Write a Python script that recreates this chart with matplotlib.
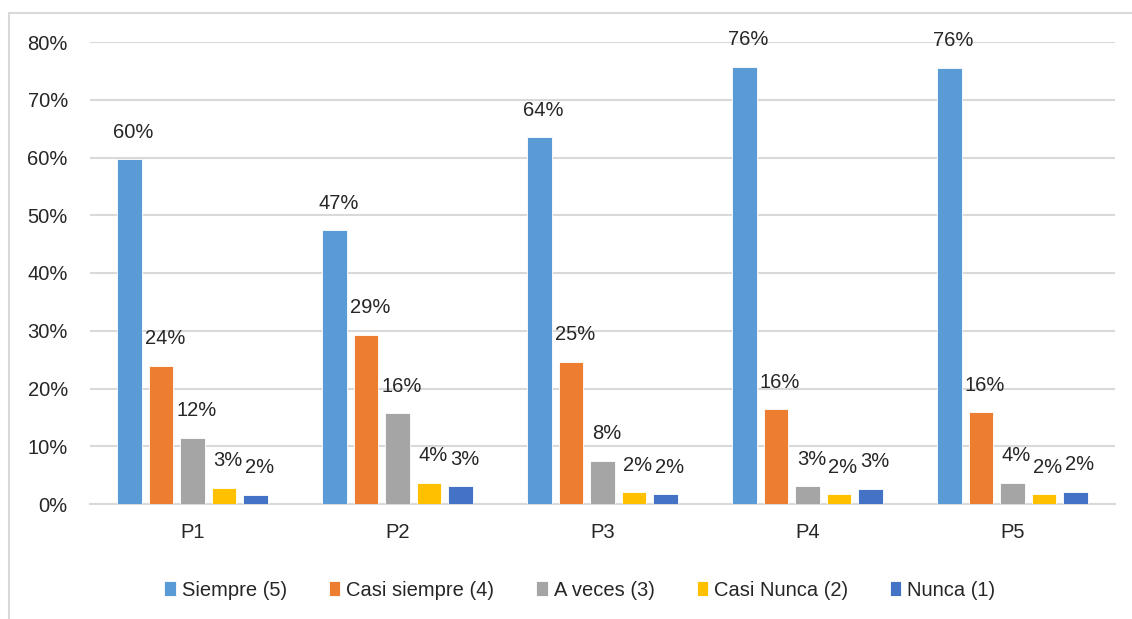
import matplotlib
matplotlib.use("Agg")
import matplotlib.pyplot as plt
from matplotlib.lines import Line2D
import numpy as np

questions = ["P1", "P2", "P3", "P4", "P5"]
series = ["Siempre (5)", "Casi siempre (4)", "A veces (3)", "Casi Nunca (2)", "Nunca (1)"]
siempre = [59.7, 47.4, 63.5, 75.7, 75.5]
casi_siempre = [23.9, 29.3, 24.6, 16.4, 15.9]
a_veces = [11.5, 15.7, 7.5, 3.1, 3.7]
casi_nunca = [2.8, 3.7, 2.0, 1.7, 1.7]
nunca = [1.6, 3.1, 1.7, 2.6, 2.1]
colors = ["#5B9BD5", "#ED7D31", "#A5A5A5", "#FFC000", "#4472C4"]

plt.rcParams["font.family"] = ["Liberation Sans", "DejaVu Sans"]
FS = 14.5

fig = plt.figure(figsize=(11.32, 6.19), dpi=100)
ax = fig.add_axes([90 / 1132, 1 - 504 / 619, 1025 / 1132, 462 / 619])

# frame of the original chart area (only left/top edges visible)
fig.add_artist(Line2D([9 / 1132, 9 / 1132], [0, 1 - 13 / 619], transform=fig.transFigure,
                      color="#D9D9D9", lw=1.5))
fig.add_artist(Line2D([9 / 1132, 1], [1 - 13 / 619, 1 - 13 / 619], transform=fig.transFigure,
                      color="#D9D9D9", lw=1.5))

x = np.arange(len(questions))
width = 0.12
step = 0.1535
values = [siempre, casi_siempre, a_veces, casi_nunca, nunca]
for i, (name, vals, col) in enumerate(zip(series, values, colors)):
    pos = x + (i - 2) * step
    ax.bar(pos, vals, width, color=col, label=name, edgecolor="white", linewidth=0.6, zorder=3)
    for px, v in zip(pos, vals):
        ax.annotate(f"{round(v):.0f}%", (px, v), xytext=(4, 27), textcoords="offset pixels",
                    ha="center", va="center", fontsize=FS, color="#262626", zorder=4)

ax.set_xlim(-0.5, len(questions) - 0.5)
ax.set_ylim(0, 80)
ax.set_yticks(range(0, 81, 10))
ax.set_yticklabels([f"{t}%" for t in range(0, 81, 10)])
ax.set_xticks(x)
ax.set_xticklabels(questions)
ax.grid(axis="y", color="#D9D9D9", lw=1.5, zorder=0)
for s in ["top", "right", "left"]:
    ax.spines[s].set_visible(False)
ax.spines["bottom"].set_color("#D9D9D9")
ax.spines["bottom"].set_linewidth(1.5)
ax.tick_params(axis="both", length=0, labelsize=FS, colors="#262626")
ax.tick_params(axis="y", pad=16)
ax.tick_params(axis="x", pad=14)

ax.legend(loc="center", bbox_to_anchor=(580 / 1132, 1 - 590 / 619), bbox_transform=fig.transFigure,
          ncol=5, frameon=False, fontsize=FS, handlelength=0.55, handleheight=0.7,
          handletextpad=0.3, columnspacing=2.1, labelcolor="#262626")

fig.savefig("out.png", dpi=100, facecolor="white")
